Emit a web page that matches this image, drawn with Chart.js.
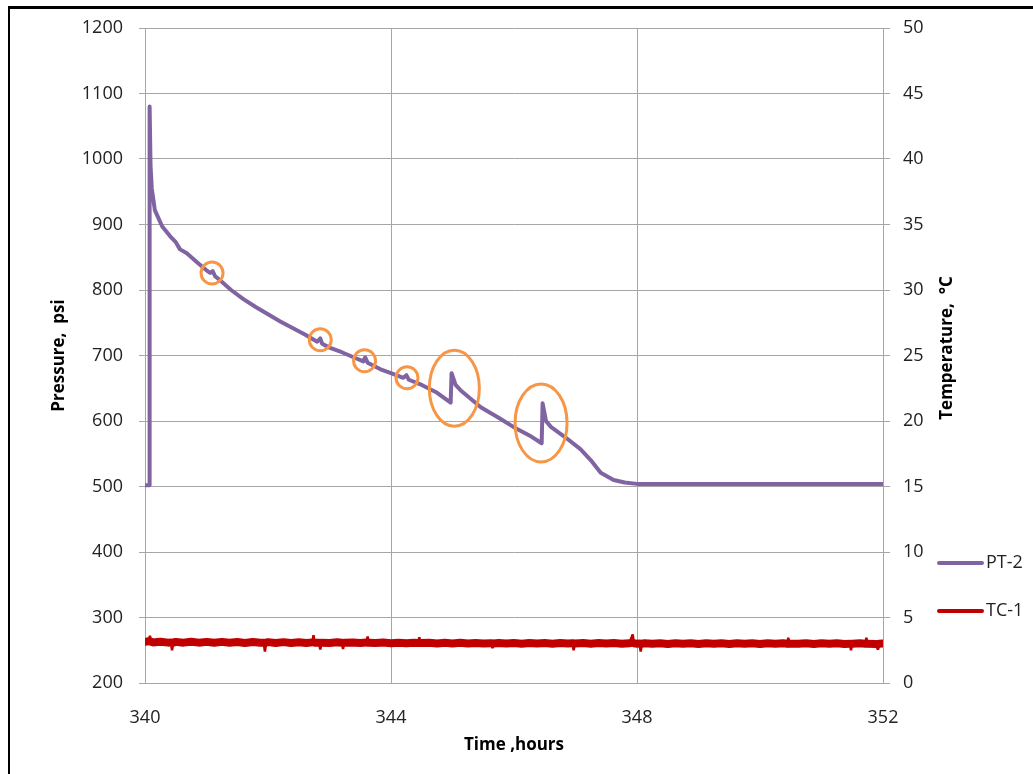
<!DOCTYPE html>
<html>
<head>
<meta charset="utf-8">
<script src="https://cdn.jsdelivr.net/npm/chart.js@4.4.1/dist/chart.umd.min.js"></script>
<style>
  html, body { margin: 0; padding: 0; background: #ffffff; }
  #wrap { width: 1033px; height: 774px; position: relative; }
</style>
</head>
<body>
<div id="wrap"><canvas id="c" width="1033" height="774"></canvas></div>
<script>
// ---------- data ----------
const xTicks = [340, 344, 348, 352];
const pressureTicks = [200, 300, 400, 500, 600, 700, 800, 900, 1000, 1100, 1200];
const tempTicks = [0, 5, 10, 15, 20, 25, 30, 35, 40, 45, 50];

const ptHours = [340.00, 340.05, 340.07, 340.075, 340.09, 340.11, 340.16, 340.28, 340.41, 340.50,
  340.57, 340.68, 340.85, 341.00, 341.06, 341.10, 341.14, 341.22, 341.40, 341.60,
  341.80, 342.00, 342.20, 342.40, 342.60, 342.80, 342.85, 342.88, 343.00, 343.20,
  343.40, 343.55, 343.58, 343.62, 343.83, 344.00, 344.20, 344.25, 344.29, 344.50,
  344.75, 344.97, 344.985, 345.05, 345.13, 345.46, 345.75, 345.99, 346.25, 346.45,
  346.465, 346.52, 346.60, 346.85, 347.08, 347.25, 347.41, 347.62, 347.80, 348.00,
  348.70, 349.50, 350.30, 351.00, 351.60, 352.00];
const ptPsi = [502, 502, 502, 1080, 990, 955, 922, 897, 882, 873,
  862, 856, 842, 830, 826, 829, 821, 815, 800, 786,
  774, 763, 752, 742, 732, 721, 726, 718, 712, 705,
  697, 691, 697, 689, 679, 673, 666, 670, 663, 655,
  643, 628, 673, 655, 647, 621, 605, 591, 578, 566,
  627, 600, 591, 574, 557, 540, 521, 510, 506, 504,
  504, 504, 504, 504, 504, 504];

const tcHours = [
  340.000, 340.060, 340.080, 340.100, 340.125, 340.250, 340.375, 340.420, 340.440, 340.460,
  340.500, 340.625, 340.750, 340.875, 341.000, 341.125, 341.250, 341.375, 341.500, 341.625,
  341.750, 341.875, 341.930, 341.950, 341.970, 342.000, 342.125, 342.250, 342.375, 342.500,
  342.625, 342.720, 342.740, 342.760, 342.830, 342.850, 342.870, 343.000, 343.125, 343.200,
  343.220, 343.240, 343.375, 343.500, 343.600, 343.620, 343.640, 343.750, 343.875, 344.000,
  344.125, 344.250, 344.375, 344.440, 344.460, 344.480, 344.625, 344.750, 344.875, 345.000,
  345.125, 345.250, 345.375, 345.500, 345.630, 345.650, 345.670, 345.750, 345.875, 346.000,
  346.125, 346.250, 346.375, 346.500, 346.625, 346.750, 346.875, 346.950, 346.970, 346.990,
  347.125, 347.250, 347.375, 347.500, 347.625, 347.750, 347.875, 347.930, 347.950, 348.000,
  348.040, 348.060, 348.080, 348.125, 348.250, 348.375, 348.500, 348.625, 348.750, 348.875,
  349.000, 349.125, 349.250, 349.375, 349.500, 349.625, 349.750, 349.875, 350.000, 350.125,
  350.250, 350.375, 350.440, 350.460, 350.480, 350.625, 350.750, 350.875, 351.000, 351.125,
  351.250, 351.375, 351.460, 351.480, 351.500, 351.625, 351.710, 351.730, 351.750, 351.875,
  351.920, 351.940, 352.000];
const tcTemp = [
  3.15, 3.18, 3.60, 3.15, 3.10, 3.15, 3.08, 3.10, 2.50, 3.08,
  3.14, 3.08, 3.15, 3.08, 3.14, 3.07, 3.14, 3.08, 3.13, 3.06,
  3.13, 3.07, 3.08, 2.40, 3.08, 3.12, 3.06, 3.12, 3.06, 3.11,
  3.06, 3.10, 3.65, 3.08, 3.07, 2.55, 3.07, 3.06, 3.11, 3.07,
  2.60, 3.07, 3.10, 3.05, 3.09, 3.55, 3.07, 3.05, 3.09, 3.04,
  3.08, 3.03, 3.08, 3.05, 3.50, 3.05, 3.07, 3.02, 3.07, 3.02,
  3.07, 3.01, 3.06, 3.01, 3.03, 2.65, 3.02, 3.06, 3.01, 3.06,
  3.00, 3.06, 3.01, 3.05, 3.00, 3.06, 3.01, 3.03, 2.50, 3.02,
  3.05, 3.00, 3.05, 3.01, 3.06, 3.00, 3.04, 3.70, 3.03, 3.00,
  3.01, 2.40, 3.00, 3.04, 2.99, 3.04, 2.98, 3.04, 2.99, 3.03,
  2.98, 3.04, 2.99, 3.03, 2.98, 3.04, 2.99, 3.03, 2.98, 3.04,
  2.99, 3.03, 3.00, 3.45, 3.00, 2.99, 3.04, 2.98, 3.03, 2.99,
  3.04, 2.98, 3.00, 2.50, 2.99, 3.03, 3.00, 3.45, 3.00, 2.98,
  2.55, 2.99, 3.02];

// highlighted events (data coordinates)
const markHours = [341.09, 342.85, 343.57, 344.26, 345.03, 346.44];
const markPsi   = [826, 724, 692, 666, 650, 597];

const seriesNames = ['PT-2', 'TC-1'];

// ---------- styles ----------
const PURPLE = '#8064A2';
const RED = '#C00000';
const ORANGE = '#F79646';
const GRID = '#a6a6a6';
const FONT = "'Open Sans', 'Liberation Sans', sans-serif";
const markRx = [11, 11, 11, 11, 25, 26];
const markRy = [11, 11, 11, 11, 38, 39];

const ptData = ptHours.map((h, i) => ({x: h, y: ptPsi[i]}));
const tcData = tcHours.map((h, i) => ({x: h, y: tcTemp[i]}));

// thin stroke for the short excursions, thick for the noisy band
const isExcursion = v => Math.abs(v - 3.05) > 0.3;

const decor = {
  id: 'decor',
  afterDatasetsDraw(chart) {
    const ctx = chart.ctx;
    const xs = chart.scales.x, ys = chart.scales.y;
    ctx.save();
    ctx.strokeStyle = ORANGE;
    ctx.lineWidth = 3;
    for (let i = 0; i < markHours.length; i++) {
      const cx = xs.getPixelForValue(markHours[i]);
      const cy = ys.getPixelForValue(markPsi[i]);
      ctx.beginPath();
      ctx.ellipse(cx, cy, markRx[i], markRy[i], 0, 0, Math.PI * 2);
      ctx.stroke();
    }
    ctx.restore();
  },
  afterDraw(chart) {
    const ctx = chart.ctx;
    ctx.save();
    // outer frame (top and left)
    ctx.fillStyle = '#000';
    ctx.fillRect(8, 6, 1033 - 8, 3);
    ctx.fillRect(8, 6, 2, 774 - 6);
    // right axis title (reads bottom to top)
    ctx.translate(947, 348);
    ctx.rotate(-Math.PI / 2);
    ctx.fillStyle = '#000';
    ctx.font = "bold 17px " + FONT;
    ctx.textAlign = 'center';
    ctx.textBaseline = 'middle';
    ctx.fillText('Temperature,  \u00B0C', 0, 0);
    ctx.restore();
    // legend
    ctx.save();
    const colors = [PURPLE, RED];
    const ys = [563, 611];
    ctx.font = "18px " + FONT;
    ctx.textBaseline = 'middle';
    ctx.textAlign = 'left';
    for (let i = 0; i < seriesNames.length; i++) {
      ctx.strokeStyle = colors[i];
      ctx.lineWidth = 4;
      ctx.lineCap = 'round';
      ctx.beginPath();
      ctx.moveTo(939, ys[i]);
      ctx.lineTo(982, ys[i]);
      ctx.stroke();
      ctx.fillStyle = '#222';
      ctx.fillText(seriesNames[i], 986, ys[i]);
    }
    ctx.restore();
  }
};

const plain = v => String(v);

new Chart(document.getElementById('c'), {
  type: 'line',
  data: {
    datasets: [
      {
        label: seriesNames[0], data: ptData, yAxisID: 'y',
        borderColor: PURPLE, borderWidth: 4, pointRadius: 0, tension: 0,
        borderJoinStyle: 'round', borderCapStyle: 'round', fill: false
      },
      {
        label: seriesNames[1], data: tcData, yAxisID: 'y2',
        borderColor: RED, borderWidth: 8, pointRadius: 0, tension: 0,
        borderJoinStyle: 'bevel', borderCapStyle: 'round', fill: false,
        segment: {
          borderWidth: ctx => (isExcursion(ctx.p0.parsed.y) || isExcursion(ctx.p1.parsed.y)) ? 2.5 : 8
        }
      }
    ]
  },
  options: {
    responsive: false,
    animation: false,
    events: [],
    layout: { padding: { top: 28, left: 0, right: 0, bottom: 0 } },
    plugins: { legend: { display: false }, tooltip: { enabled: false } },
    scales: {
      x: {
        type: 'linear', min: 340, max: 352,
        afterBuildTicks(s) { s.ticks = xTicks.map(v => ({value: v})); },
        afterFit(s) { s.height = 91; },
        grid: { color: GRID, lineWidth: 1, drawTicks: false },
        border: { color: GRID, width: 1 },
        ticks: { color: '#222', font: { family: FONT, size: 18 }, padding: 24, maxRotation: 0, callback: plain },
        title: { display: true, text: 'Time ,hours', color: '#000',
                 font: { family: FONT, size: 17, weight: 'bold' }, padding: { top: 0, bottom: 19 } }
      },
      y: {
        type: 'linear', position: 'left', min: 200, max: 1200,
        afterBuildTicks(s) { s.ticks = pressureTicks.map(v => ({value: v})); },
        afterFit(s) { s.width = 145; },
        grid: { color: GRID, lineWidth: 1, tickLength: 6 },
        border: { color: GRID, width: 1 },
        ticks: { color: '#222', font: { family: FONT, size: 18 }, padding: 16, callback: plain },
        title: { display: true, text: 'Pressure,  psi', color: '#000',
                 font: { family: FONT, size: 17, weight: 'bold' }, padding: { top: 49, bottom: 0 } }
      },
      y2: {
        type: 'linear', position: 'right', min: 0, max: 50,
        afterBuildTicks(s) { s.ticks = tempTicks.map(v => ({value: v})); },
        afterFit(s) { s.width = 150; },
        grid: { drawOnChartArea: false, color: GRID, tickLength: 7 },
        border: { color: GRID, width: 1 },
        ticks: { color: '#222', font: { family: FONT, size: 18 }, padding: 13, callback: plain }
      }
    }
  },
  plugins: [decor]
});
</script>
</body>
</html>
